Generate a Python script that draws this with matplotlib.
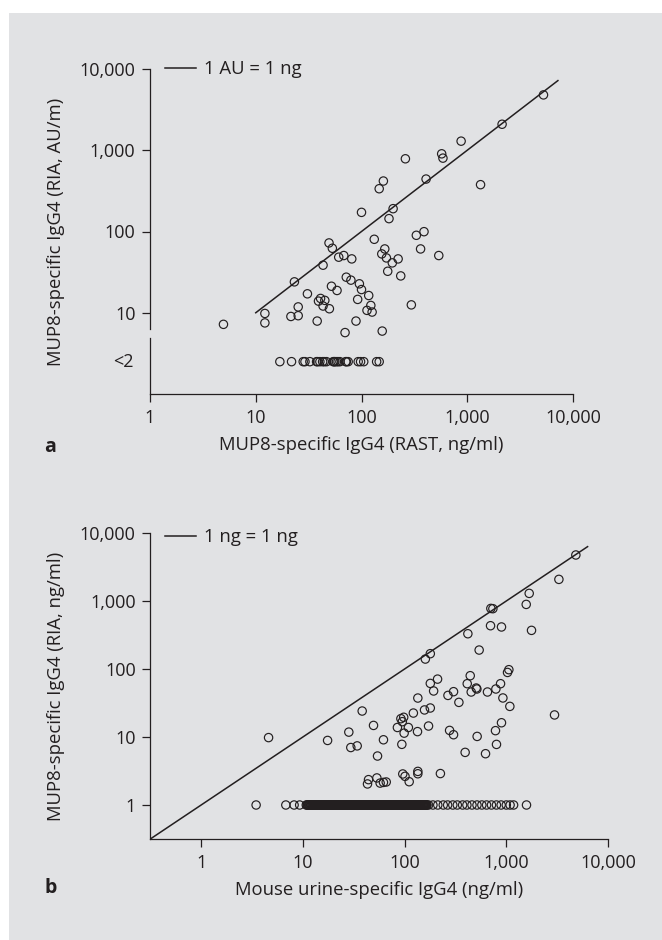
import numpy as np
import matplotlib
matplotlib.use('Agg')
import matplotlib.pyplot as plt
from matplotlib.patches import Rectangle

plt.rcParams['font.family'] = ['Open Sans', 'DejaVu Sans']

INK = '#231f20'
BG = '#e1e2e4'

# Panel a: RAST (x) vs RIA (y)
a_x = [4.95, 12.2, 12.2, 23.2, 21.5, 25.2, 25.2, 30.8, 38.1, 39.2,
       41, 45, 43.3, 49.7, 43.3, 49.3, 53, 52, 58.7, 60.9,
       68, 71.8, 79.4, 80.9, 69.9, 88.7, 92, 95.5, 100, 100,
       112.7, 117, 122.5, 126, 132, 147, 161, 157, 155.5, 166,
       172, 177, 182, 195.6, 199, 222, 235, 260, 296, 330,
       362, 390, 408, 538, 573, 589, 875, 1336, 2135, 5260]
a_y = [7.2, 9.8, 7.5, 24, 9.0, 11.8, 9.2, 17.1, 7.9, 13.9,
       15, 14.2, 12.1, 11.2, 38.5, 72.3, 62.2, 21.2, 18.8, 48.3,
       50.6, 27.4, 25.2, 46, 5.7, 7.9, 14.6, 22.7, 19.3, 172,
       10.7, 16.3, 12.3, 10.2, 80.2, 336, 418, 5.95, 53, 61,
       47.3, 32.4, 144, 41.1, 191, 46, 28.4, 785, 12.5, 89.8,
       61, 99.5, 442, 50.6, 904, 800, 1294, 377, 2090, 4800]
# below detection (<2 AU/ml), plotted on their own row
a_lod_x = [16.9, 21.8, 28.1, 29.2, 32.5, 37.6, 38.5, 40.4, 42.9, 44.5,
           46.7, 54, 55, 56, 58, 60, 62.5, 71, 72, 74.8,
           93, 98, 105, 139, 147]
a_lod_pos = 2.5
a_line = [10, 7200]

# Panel b: mouse urine IgG4 (x) vs MUP8 RIA (y)
b_x = [4.6, 17.5, 38.3, 28.3, 29.6, 34.2, 49.5, 62, 54.2, 92,
       95, 98, 122, 85, 99, 109, 134, 94, 135, 44.2,
       43.2, 53.4, 57.5, 62, 66, 96, 101, 111, 135, 135,
       225, 4830, 3290, 1680, 1570, 1770, 705, 738, 700, 897,
       419, 541, 179, 160, 211, 179, 193, 267, 303, 342,
       442, 413, 452, 506, 514, 653, 790, 878, 926, 1028,
       1060, 1084, 2980, 157, 179, 172, 277, 303, 517, 394,
       625, 897, 783, 801]
b_y = [9.8, 8.9, 24.1, 11.8, 7.0, 7.4, 14.8, 9.1, 5.25, 18.6,
       16.8, 19.5, 22.5, 13.8, 11.4, 13.8, 12.0, 7.8, 37.4, 2.36,
       2.04, 2.5, 2.1, 2.15, 2.18, 2.86, 2.64, 2.2, 3.12, 2.88,
       2.9, 4750, 2080, 1294, 891, 370, 778, 771, 433, 415,
       330, 190, 168, 140, 71, 61.4, 47.5, 40.9, 46.4, 32.3,
       79.7, 60.8, 45.9, 52.5, 50.8, 45.9, 50.8, 60.8, 37.5, 89,
       97.7, 28.2, 21.1, 25, 26.7, 14.5, 12.5, 10.8, 10.2, 5.94,
       5.68, 16.2, 12.4, 7.78]
# samples at 1 ng/ml (bottom row, very dense between ~11 and ~170)
b_low_x = [3.47, 6.8, 8.2, 9.3,
           10.8, 11.0, 11.2, 11.4, 11.5, 11.7, 11.9, 12.1, 12.3, 12.4,
           12.6, 12.8, 13.0, 13.3, 13.5, 13.7, 13.9, 14.2, 14.4, 14.6,
           14.8, 15.1, 15.3, 15.6, 15.9, 16.1, 16.4, 16.7, 17.0, 17.3,
           17.6, 17.9, 18.3, 18.6, 19.0, 19.3, 19.6, 20.0, 20.4, 20.7,
           21.1, 21.5, 21.9, 22.3, 22.7, 23.1, 23.5, 23.9, 24.4, 24.8,
           25.3, 25.7, 26.2, 26.6, 27.1, 27.6, 28.0, 28.5, 29.0, 29.6,
           30.1, 30.4, 30.7, 31.1, 31.5, 31.8, 32.2, 32.6, 33.0, 33.4,
           33.8, 34.1, 34.5, 35.0, 35.4, 35.8, 36.2, 36.6, 37.0, 37.5,
           37.9, 38.4, 38.9, 39.3, 39.7, 40.2, 40.6, 41.2, 41.7, 42.1,
           42.6, 43.0, 43.5, 44.1, 44.7, 45.2, 45.7, 46.1, 46.6, 47.3,
           47.9, 48.4, 49.0, 49.6, 50.2, 50.7, 51.3, 51.9, 52.4, 53.1,
           53.9, 54.4, 55.0, 55.7, 56.4, 57.0, 57.6, 58.3, 59.1, 59.7,
           60.3, 61.0, 61.8, 62.6, 63.4, 64.0, 64.7, 65.6, 66.5, 67.2,
           68.0, 68.7, 69.5, 70.4, 71.3, 72.0, 72.8, 73.8, 74.7, 75.5,
           76.3, 77.2, 78.1, 79.2, 80.2, 81.0, 81.8, 83.0, 84.1, 85.0,
           85.9, 87.0, 88.2, 89.1, 90.0, 91.2, 92.3, 93.2, 94.1, 95.5,
           96.8, 97.9, 99.0, 100, 101, 102.5, 104, 105, 106, 107,
           108, 109.5, 111, 112.5, 114, 115, 116, 117.5, 119, 120.5,
           122, 123.5, 125, 126.5, 128, 129, 130, 132, 134, 135.5,
           137, 139, 141, 142, 143, 145, 147, 149, 151, 152.5,
           154, 156, 158, 160, 162, 164, 166,
           172, 190, 212, 240, 265, 298, 330, 372, 410, 460,
           515, 575, 640, 715, 800, 890, 1000, 1090, 1180, 1580]
b_low_pos = 1.0
b_line = [10 ** -0.5, 6300]

ticks = [1, 10, 100, 1000, 10000]
tick_labels = ['1', '10', '100', '1,000', '10,000']

fig = plt.figure(figsize=(6.62, 9.40), dpi=100)
fig.patches.append(Rectangle((9 / 662, 0), 1, 1 - 13 / 940, transform=fig.transFigure,
                             facecolor=BG, edgecolor='none', zorder=-10))

def style(ax):
    ax.set_xscale('log')
    ax.set_yscale('log')
    ax.patch.set_alpha(0)
    for s in ['top', 'right']:
        ax.spines[s].set_visible(False)
    for s in ['left', 'bottom']:
        ax.spines[s].set_color(INK)
        ax.spines[s].set_linewidth(0.9)
    ax.minorticks_off()
    ax.tick_params(which='major', direction='out', length=6, width=0.9, color=INK,
                   labelcolor=INK, labelsize=13, pad=4.5)

circ = dict(s=36, facecolors='none', edgecolors=INK, linewidths=0.85, clip_on=False, zorder=3)

# ---- panel a ----
ax1 = fig.add_axes([150 / 662, 1 - 394 / 940, 423 / 662, 325 / 940])
style(ax1)
ax1.set_xlim(1, 10000)
ax1.set_ylim(1, 10000)
ax1.plot(a_line, a_line, color=INK, lw=1.1, label='1 AU = 1 ng')
ax1.scatter(a_x, a_y, **circ)
ax1.scatter(a_lod_x, [a_lod_pos] * len(a_lod_x), **circ)
ax1.set_xticks(ticks, tick_labels)
ax1.set_yticks(ticks[1:], tick_labels[1:])
# broken y axis
ax1.spines['left'].set_visible(False)
yt = ax1.get_yaxis_transform()
ax1.plot([0, 0], [6.36, 10000], transform=yt, color=INK, lw=0.9, clip_on=False)
ax1.plot([0, 0], [1, 4.92], transform=yt, color=INK, lw=0.9, clip_on=False)
ax1.text(-0.038, a_lod_pos, '<2', transform=yt, ha='right', va='center', fontsize=13, color=INK)
ax1.set_xlabel('MUP8-specific IgG4 (RAST, ng/ml)', fontsize=13.3, color=INK, va='center')
ax1.xaxis.set_label_coords(0.5, -0.157)
ax1.set_ylabel('MUP8-specific IgG4 (RIA, AU/m)', fontsize=13.3, color=INK, va='center')
ax1.yaxis.set_label_coords(-0.222, 0.5)
ax1.legend(loc='center left', bbox_to_anchor=(0.035, 1.0), frameon=False, fontsize=13.3,
           handlelength=1.7, handletextpad=0.42, borderpad=0, borderaxespad=0, labelcolor=INK)

# ---- panel b ----
ax2 = fig.add_axes([150.3 / 662, 1 - 839 / 940, 457.7 / 662, 306 / 940])
style(ax2)
ax2.set_xlim(10 ** -0.5, 10000)
ax2.set_ylim(10 ** -0.5, 10000)
ax2.plot(b_line, b_line, color=INK, lw=1.1, label='1 ng = 1 ng')
ax2.scatter(b_x, b_y, **circ)
ax2.scatter(b_low_x, [b_low_pos] * len(b_low_x), **circ)
ax2.set_xticks(ticks, tick_labels)
ax2.set_yticks(ticks, tick_labels)
ax2.set_xlabel('Mouse urine-specific IgG4 (ng/ml)', fontsize=13.3, color=INK, va='center')
ax2.xaxis.set_label_coords(0.5, -0.167)
ax2.set_ylabel('MUP8-specific IgG4 (RIA, ng/ml)', fontsize=13.3, color=INK, va='center')
ax2.yaxis.set_label_coords(-0.206, 0.5)
ax2.legend(loc='center left', bbox_to_anchor=(0.032, 0.986), frameon=False, fontsize=13.3,
           handlelength=1.7, handletextpad=0.42, borderpad=0, borderaxespad=0, labelcolor=INK)

fig.text(50 / 662, 1 - 447 / 940, 'a', fontsize=14, fontweight='bold', color=INK, ha='center', va='center')
fig.text(50.7 / 662, 1 - 888 / 940, 'b', fontsize=14, fontweight='bold', color=INK, ha='center', va='center')

fig.savefig('out.png', dpi=100)
